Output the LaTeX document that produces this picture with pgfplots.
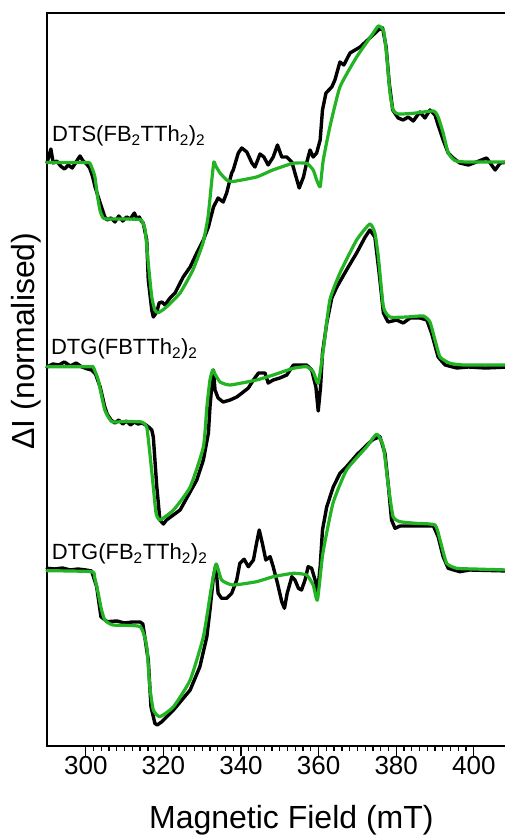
\documentclass[border=0pt]{standalone}
\usepackage{fontspec}
\setmainfont{Liberation Sans}
\usepackage{pgfplots}
\pgfplotsset{compat=1.18}
\definecolor{fitgreen}{RGB}{34,180,34}
\begin{document}
\begin{tikzpicture}
\begin{axis}[
  at={(0,0)}, anchor=south west,
  scale only axis, width=462bp, height=733bp,
  xmin=290, xmax=409.07, ymin=0, ymax=733,
  xtick={300,320,...,400}, minor x tick num=9,
  ytick=\empty,
  xtick pos=left, tick align=outside,
  major tick length=10bp, minor tick length=5bp,
  every tick/.style={black, line width=1.3bp},
  axis line style={line width=1.6bp},
  /pgf/number format/assume math mode=true,
  xticklabel style={font=\fontsize{26bp}{30bp}\selectfont, yshift=3bp},
  xlabel={Magnetic Field (mT)},
  xlabel style={font=\fontsize{32bp}{38bp}\selectfont, at={(rel axis cs:0.529,-0.1132)}, anchor=base},
  ylabel={ΔI (normalised)},
  ylabel style={font=\fontsize{32bp}{38bp}\selectfont, at={(rel axis cs:-0.0455,0.5525)}, anchor=center},
  clip=false,
  blk/.style={black, line width=3.4bp, line join=round, line cap=round},
  fit/.style={fitgreen, line width=3.2bp, line join=round, line cap=round, smooth, tension=0.3},
]
% ---- top: DTS(FB2TTh2)2 ----
\addplot[blk] coordinates {
(290.0,583) (291.0,597) (291.6,583) (292.5,585) (293.5,580) (294.5,577) (295.5,581) (296.5,578) (297.5,584) (298.5,590) (299.3,585) (300.2,582) (301.0,578) (301.7,570) (302.4,559) (303.7,543) (304.9,529) (305.5,526) (306.5,528) (307.5,524) (308.5,530) (309.5,525) (310.5,529) (311.5,527) (312.5,533) (313.2,527) (313.8,529) (314.3,525) (314.8,523) (315.7,506) (316.1,466) (317.0,436) (317.4,429) (318.3,434) (318.9,443) (319.6,444) (320.4,441) (321.7,448) (323.0,453) (325.1,469) (326.9,479) (328.6,493) (330.3,506) (331.6,519) (332.9,539) (334.1,548) (335.4,544) (336.3,553) (337.6,573) (338.0,576) (339.3,593) (340.2,598) (341.5,594) (342.8,583) (343.6,579) (344.9,592) (345.9,589) (347.0,581) (348.3,589) (349.4,601) (350.5,589) (351.8,589) (353.1,584) (353.9,573) (355.0,558) (356.1,569) (356.9,583) (357.8,596) (358.6,589) (359.5,593) (360.4,606) (361.0,636) (361.9,653) (363.4,659) (364.2,666) (365.5,684) (366.5,681) (368.1,693) (370.7,699) (373.2,708) (375.4,716) (376.5,718) (377.4,699) (378.2,663) (379.1,636) (380.5,628) (381.8,626) (383.1,629) (384.4,625) (386.1,634) (387.4,628) (388.7,636) (390.0,631) (390.8,621) (392.1,606) (393.4,593) (394.7,588) (396.4,583) (398.6,581) (400.7,584) (403.3,588) (405.5,576) (406.8,583) (409.0,584)
};
\addplot[fit] coordinates {
(290.0,583.5) (300.0,583.5) (301.1,582.5) (302.3,570) (303.0,550) (303.7,535) (304.4,528.5) (305.2,527) (310,527) (314.0,526.5) (314.6,524) (315.3,516) (316.1,483) (317.0,449) (317.8,436) (318.7,433.3) (320.8,439) (324.3,453) (327.6,476) (330.2,503) (331.5,529) (332.4,563) (333.0,584) (333.5,580) (334.6,573) (336.3,566) (337.9,564.5) (344.0,569) (348.2,576) (353.4,582.7) (356.9,582.7) (358.6,576) (359.5,566) (360.4,559.3) (361.2,586) (362.9,619) (365.5,659) (369.8,689) (374.1,713) (375.4,720) (376.7,716) (377.5,693) (378.4,653) (379.2,636) (380.5,632) (384.4,632.7) (389.6,635) (390.8,629) (392.1,613) (393.4,593) (395.1,585.5) (398,584) (409.0,584)
};
% ---- middle: DTG(FBTTh2)2 ----
\addplot[blk] coordinates {
(290.0,379) (291.5,382) (293,381) (294.5,384) (296,380) (297.5,383) (299,379) (300.5,377) (301.5,376) (302.5,372) (303.7,359) (304.9,339) (305.5,332) (306.5,326) (307.5,323) (308.5,326) (309.5,322) (310.5,325) (311.5,321) (312.5,324) (313.5,322) (314.5,323) (315.5,321) (316.5,318) (317.0,316) (317.4,309) (318.3,259) (319.1,226) (320.0,222) (320.8,226) (324.3,236) (328.6,266) (330.3,286) (331.6,313) (332.0,339) (332.6,366) (332.9,376) (333.3,356) (334.1,348) (335.4,344) (337.2,346) (338.9,349) (340.6,354) (341.9,358) (343.2,366) (344.5,373) (346.2,373) (347.0,363) (348.3,366) (350.0,368) (351.8,371) (353.5,381) (355.2,381) (356.9,381) (358.2,376) (359.3,359) (359.9,335) (360.5,359) (361.0,393) (362.1,423) (363.4,448) (364.7,459) (367.2,476) (369.8,493) (372.0,509) (373.2,516) (374.5,509) (375.6,473) (376.7,433) (377.9,424) (380.1,426) (381.8,423) (383.6,428) (386.1,428) (387.9,426) (389.1,413) (390.8,389) (392.6,381) (395.6,378) (398.6,379) (403.0,378) (409.0,379)
};
\addplot[fit] coordinates {
(290.0,379.3) (301.0,379.3) (301.9,379) (303.2,366) (304.9,336) (306.7,324.3) (310,324.5) (314.4,324) (315.7,319) (316.5,293) (317.4,259) (318.1,233) (319.1,226) (322.6,236) (326.9,259) (330.3,299) (331.2,339) (332.0,366) (332.7,376) (333.3,372) (334.6,364) (337.2,361) (344.0,366) (348.3,371) (353.5,377.7) (356.9,379.3) (358.6,374.3) (359.9,362.7) (361.2,396) (362.9,446) (365.5,473) (369.8,506) (373.2,522) (374.5,513) (375.4,489) (376.7,439) (378.4,429) (382.7,429) (387.0,430) (388.7,424) (390.0,406) (391.3,389) (393.9,382.7) (397.5,381) (409.0,381)
};
% ---- bottom: DTG(FB2TTh2)2 ----
\addplot[blk] coordinates {
(290.0,177.7) (292,177) (294,178) (296,176) (298,177) (300,176) (301.5,175) (302.8,159.3) (303.9,129.3) (305.5,124.3) (308,125) (310,123) (312,124) (314,124) (314.7,122) (316.1,86) (316.8,39.3) (317.8,22.7) (318.4,21) (319.6,24.3) (322.6,36) (326.9,56) (329.4,79.3) (331.2,109.3) (332.0,136) (332.9,169.3) (333.5,181) (334.1,152.7) (335.0,147.7) (336.3,147.7) (337.6,152.7) (338.9,166) (339.7,182.7) (340.8,186.7) (341.9,179.3) (343.2,186) (344.0,202.7) (344.7,216) (345.5,202.7) (346.4,186) (347.5,189.3) (348.3,179.3) (349.4,162.7) (350.5,144.3) (351.2,137.7) (351.9,152.7) (353.1,169.3) (353.9,166) (354.8,157.7) (355.6,156) (356.5,166) (357.3,179.3) (358.2,177.7) (359.1,166) (359.7,152.7) (360.4,179.3) (361.0,216) (362.1,239.3) (363.8,259.3) (365.5,272.7) (367.2,279.3) (369.8,291) (372.4,301) (374.1,306.7) (375.8,309.3) (377.1,292.7) (378.0,259.3) (378.8,226) (379.7,217.7) (381.0,220) (384.4,220) (389.6,220) (390.8,209.3) (392.1,189.3) (393.4,177.7) (396.4,174.3) (398.9,176) (409.0,175)
};
\addplot[fit] coordinates {
(290.0,175.3) (301.5,174.3) (302.3,168) (303.2,152.7) (304.0,137) (304.9,126) (307.0,121) (314.0,119.3) (315.7,99.3) (316.5,59.3) (317.4,36) (319.1,29.3) (322.6,39.3) (326.9,66) (330.3,109.3) (332.4,159.3) (333.6,182) (335.0,166) (337.9,161) (344.0,164.3) (348.3,169.3) (353.5,172.7) (356.9,171) (358.6,161) (359.7,146) (361.1,192.7) (363.7,242.7) (367.2,276) (372.4,299.3) (375.0,312) (376.7,299.3) (378.0,259.3) (379.2,229.3) (381.0,224.3) (385,222.7) (390.0,221) (391.3,206) (393.0,182.7) (395.6,177.7) (400,177) (409.0,176)
};
\node[anchor=base west, font=\fontsize{22bp}{26bp}\selectfont, inner sep=0pt] at (axis cs:291.3,604) {DTS(FB\textsubscript{2}TTh\textsubscript{2})\textsubscript{2}};
\node[anchor=base west, font=\fontsize{22bp}{26bp}\selectfont, inner sep=0pt] at (axis cs:291.0,391) {DTG(FBTTh\textsubscript{2})\textsubscript{2}};
\node[anchor=base west, font=\fontsize{22bp}{26bp}\selectfont, inner sep=0pt] at (axis cs:291.2,186) {DTG(FB\textsubscript{2}TTh\textsubscript{2})\textsubscript{2}};
\end{axis}
\pgfresetboundingbox
\useasboundingbox (-47bp,-90bp) rectangle (458bp,746bp);
\end{tikzpicture}
\end{document}
